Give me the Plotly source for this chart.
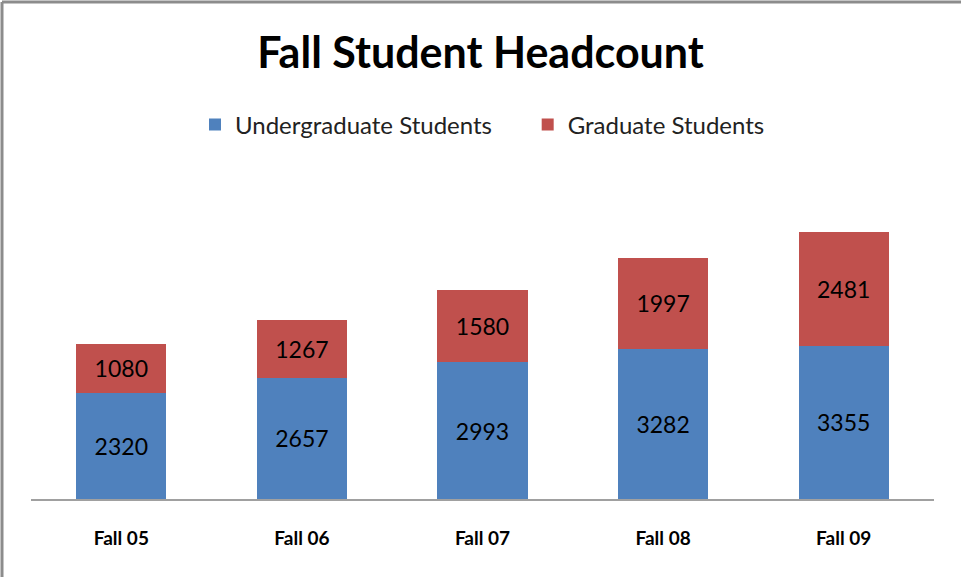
import plotly.graph_objects as go

categories = ["Fall 05", "Fall 06", "Fall 07", "Fall 08", "Fall 09"]
undergrad = [2320, 2657, 2993, 3282, 3355]
graduate = [1080, 1267, 1580, 1997, 2481]

W, H = 961, 577
ML, MR, MT, MB = 31, 27, 181, 78
pw, ph = W - ML - MR, H - MT - MB

fig = go.Figure()
fig.add_trace(go.Bar(
    x=categories, y=undergrad, name="Undergraduate Students\u00a0\u00a0\u00a0\u00a0\u00a0",
    marker=dict(color="#4F81BD", line=dict(width=0)),
    text=undergrad, textposition="inside", insidetextanchor="middle",
    textangle=0, constraintext="none",
    textfont=dict(family="Lato", size=23, color="black"),
))
fig.add_trace(go.Bar(
    x=categories, y=graduate, name="Graduate Students",
    marker=dict(color="#C0504D", line=dict(width=0)),
    text=graduate, textposition="inside", insidetextanchor="middle",
    textangle=0, constraintext="none",
    textfont=dict(family="Lato", size=23, color="black"),
))

# chart border (top and left visible)
px = lambda v: (v - ML) / pw
py = lambda v: (H - MB - v) / ph
fig.add_shape(type="line", xref="paper", yref="paper",
              x0=px(2), x1=px(W + 5), y0=py(2), y1=py(2),
              line=dict(color="#8C8C8C", width=3))
fig.add_shape(type="line", xref="paper", yref="paper",
              x0=px(2), x1=px(2), y0=py(2), y1=py(H + 5),
              line=dict(color="#8C8C8C", width=3))

fig.update_layout(
    width=W, height=H,
    margin=dict(l=ML, r=MR, t=MT, b=MB),
    paper_bgcolor="white", plot_bgcolor="white",
    barmode="stack", bargap=0.5,
    title=dict(text="<b>Fall Student Headcount</b>", x=0.5, xanchor="center",
               y=1 - 53 / H, yanchor="middle",
               font=dict(family="Lato", size=43, color="black")),
    legend=dict(orientation="h", x=0.5, xanchor="center",
                y=py(125), yanchor="middle", traceorder="normal",
                font=dict(family="Lato", size=24, color="#222222"),
                itemwidth=30),
    xaxis=dict(showline=True, linecolor="#A0A0A0", linewidth=2,
               ticks="outside", ticklen=21, tickcolor="rgba(0,0,0,0)",
               tickfont=dict(family="Lato", size=19, color="black"),
               tickprefix="<b>", ticksuffix="</b>", showgrid=False),
    yaxis=dict(range=[0, 6960], visible=False, showgrid=False),
    showlegend=True,
)

fig.write_html("out.html", config={"displayModeBar": False},
               post_script="document.body.style.margin='0';")
